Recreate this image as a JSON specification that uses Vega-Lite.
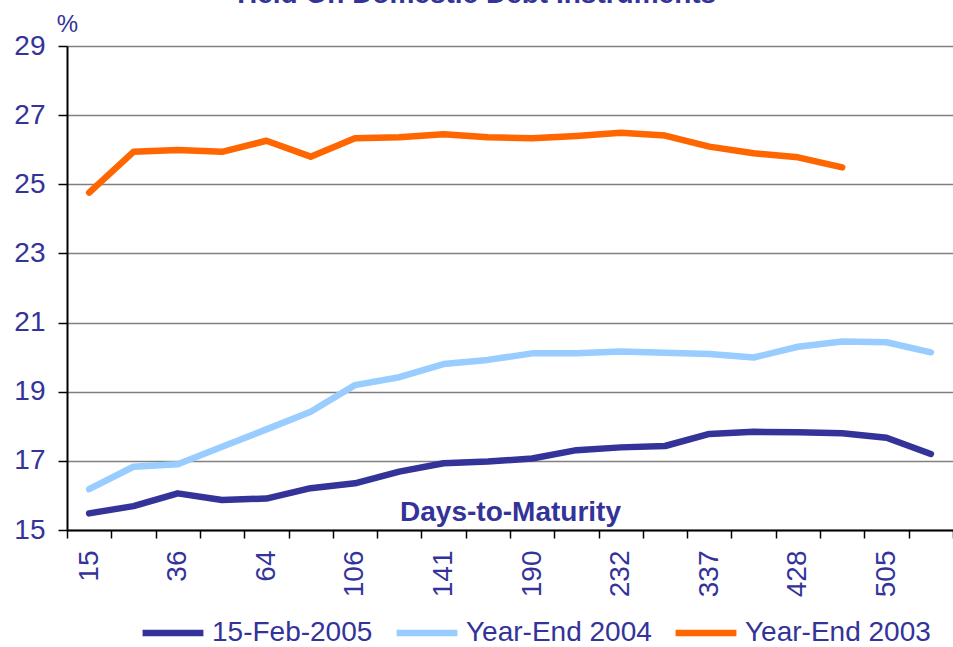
{
  "$schema": "https://vega.github.io/schema/vega-lite/v6.json",
  "width": 886,
  "height": 484,
  "autosize": {"type": "none"},
  "padding": {"left": 67, "top": 46, "right": 0, "bottom": 117},
  "background": "white",
  "title": {
    "text": "Yield On Domestic Debt Instruments",
    "font": "Liberation Sans",
    "fontSize": 28,
    "fontWeight": "bold",
    "color": "#333399",
    "anchor": "middle",
    "frame": "group",
    "dx": -36,
    "dy": 5,
    "offset": 8
  },
  "data": {
    "values": [
      {"d": "15", "series": "15-Feb-2005", "y": 15.48},
      {"d": "22", "series": "15-Feb-2005", "y": 15.69},
      {"d": "36", "series": "15-Feb-2005", "y": 16.06},
      {"d": "50", "series": "15-Feb-2005", "y": 15.87},
      {"d": "64", "series": "15-Feb-2005", "y": 15.91},
      {"d": "78", "series": "15-Feb-2005", "y": 16.21},
      {"d": "106", "series": "15-Feb-2005", "y": 16.35},
      {"d": "120", "series": "15-Feb-2005", "y": 16.69},
      {"d": "141", "series": "15-Feb-2005", "y": 16.93},
      {"d": "162", "series": "15-Feb-2005", "y": 16.98},
      {"d": "190", "series": "15-Feb-2005", "y": 17.07},
      {"d": "211", "series": "15-Feb-2005", "y": 17.31},
      {"d": "232", "series": "15-Feb-2005", "y": 17.39},
      {"d": "281", "series": "15-Feb-2005", "y": 17.43},
      {"d": "337", "series": "15-Feb-2005", "y": 17.78},
      {"d": "380", "series": "15-Feb-2005", "y": 17.84},
      {"d": "428", "series": "15-Feb-2005", "y": 17.83},
      {"d": "470", "series": "15-Feb-2005", "y": 17.80},
      {"d": "505", "series": "15-Feb-2005", "y": 17.67},
      {"d": "540", "series": "15-Feb-2005", "y": 17.20},
      {"d": "15", "series": "Year-End 2004", "y": 16.18},
      {"d": "22", "series": "Year-End 2004", "y": 16.83},
      {"d": "36", "series": "Year-End 2004", "y": 16.90},
      {"d": "50", "series": "Year-End 2004", "y": 17.41},
      {"d": "64", "series": "Year-End 2004", "y": 17.91},
      {"d": "78", "series": "Year-End 2004", "y": 18.42},
      {"d": "106", "series": "Year-End 2004", "y": 19.19},
      {"d": "120", "series": "Year-End 2004", "y": 19.42},
      {"d": "141", "series": "Year-End 2004", "y": 19.80},
      {"d": "162", "series": "Year-End 2004", "y": 19.92},
      {"d": "190", "series": "Year-End 2004", "y": 20.11},
      {"d": "211", "series": "Year-End 2004", "y": 20.11},
      {"d": "232", "series": "Year-End 2004", "y": 20.16},
      {"d": "281", "series": "Year-End 2004", "y": 20.13},
      {"d": "337", "series": "Year-End 2004", "y": 20.09},
      {"d": "380", "series": "Year-End 2004", "y": 19.99},
      {"d": "428", "series": "Year-End 2004", "y": 20.30},
      {"d": "470", "series": "Year-End 2004", "y": 20.45},
      {"d": "505", "series": "Year-End 2004", "y": 20.43},
      {"d": "540", "series": "Year-End 2004", "y": 20.14},
      {"d": "15", "series": "Year-End 2003", "y": 24.76},
      {"d": "22", "series": "Year-End 2003", "y": 25.94},
      {"d": "36", "series": "Year-End 2003", "y": 25.99},
      {"d": "50", "series": "Year-End 2003", "y": 25.94},
      {"d": "64", "series": "Year-End 2003", "y": 26.26},
      {"d": "78", "series": "Year-End 2003", "y": 25.80},
      {"d": "106", "series": "Year-End 2003", "y": 26.33},
      {"d": "120", "series": "Year-End 2003", "y": 26.36},
      {"d": "141", "series": "Year-End 2003", "y": 26.45},
      {"d": "162", "series": "Year-End 2003", "y": 26.36},
      {"d": "190", "series": "Year-End 2003", "y": 26.33},
      {"d": "211", "series": "Year-End 2003", "y": 26.40},
      {"d": "232", "series": "Year-End 2003", "y": 26.49},
      {"d": "281", "series": "Year-End 2003", "y": 26.41},
      {"d": "337", "series": "Year-End 2003", "y": 26.09},
      {"d": "380", "series": "Year-End 2003", "y": 25.90},
      {"d": "428", "series": "Year-End 2003", "y": 25.78},
      {"d": "470", "series": "Year-End 2003", "y": 25.49}
    ]
  },
  "mark": {"type": "line", "strokeJoin": "round", "strokeCap": "round"},
  "encoding": {
    "x": {
      "field": "d",
      "type": "ordinal",
      "scale": {
        "type": "band",
        "domain": ["15","22","36","50","64","78","106","120","141","162","190","211","232","281","337","380","428","470","505","540"],
        "paddingInner": 0,
        "paddingOuter": 0
      },
      "axis": {
        "title": "Days-to-Maturity",
        "titleFont": "Liberation Sans",
        "titleFontSize": 28,
        "titleFontWeight": "bold",
        "titleColor": "#333399",
        "titleX": 443,
        "titleY": -10,
        "titleAlign": "center",
        "titleBaseline": "alphabetic",
        "labelExpr": "indexof(['15','36','64','106','141','190','232','337','428','505'], datum.value) >= 0 ? datum.label : ''",
        "labelAngle": -90,
        "labelFont": "Liberation Sans",
        "labelFontSize": 28,
        "labelColor": "#333399",
        "labelPadding": 12,
        "tickBand": "extent",
        "tickSize": 8,
        "tickColor": "#000000",
        "tickWidth": 1.5,
        "domainColor": "#000000",
        "domainWidth": 2,
        "grid": false,
        "labelOverlap": false
      }
    },
    "y": {
      "field": "y",
      "type": "quantitative",
      "scale": {"domain": [15, 29], "nice": false, "zero": false},
      "axis": {
        "values": [15, 17, 19, 21, 23, 25, 27, 29],
        "title": "%",
        "titleFont": "Liberation Sans",
        "titleFontSize": 24,
        "titleFontWeight": "normal",
        "titleColor": "#333399",
        "titleAngle": 0,
        "titleX": 0,
        "titleY": -15,
        "titleAlign": "center",
        "titleBaseline": "alphabetic",
        "labelFont": "Liberation Sans",
        "labelFontSize": 28,
        "labelColor": "#333399",
        "labelPadding": 13,
        "tickSize": 9,
        "tickColor": "#000000",
        "tickWidth": 1.5,
        "domainColor": "#000000",
        "domainWidth": 2,
        "grid": true,
        "gridColor": "#808080",
        "gridWidth": 1.5,
        "gridOpacity": 1
      }
    },
    "color": {
      "field": "series",
      "type": "nominal",
      "scale": {
        "domain": ["15-Feb-2005", "Year-End 2004", "Year-End 2003"],
        "range": ["#333399", "#99CCFF", "#FF6600"]
      },
      "legend": {
        "title": null,
        "orient": "none",
        "direction": "horizontal",
        "legendX": 72,
        "legendY": 553,
        "symbolType": "stroke",
        "symbolSize": 3700,
        "symbolStrokeWidth": 7,
        "labelFont": "Liberation Sans",
        "labelFontSize": 28,
        "labelColor": "#333399",
        "labelLimit": 400,
        "labelOffset": 5,
        "columnPadding": 10
      }
    },
    "strokeWidth": {
      "field": "series",
      "type": "nominal",
      "scale": {
        "domain": ["15-Feb-2005", "Year-End 2004", "Year-End 2003"],
        "range": [6.5, 6.5, 3.5]
      },
      "legend": null
    }
  },
  "config": {
    "view": {"stroke": null}
  }
}
